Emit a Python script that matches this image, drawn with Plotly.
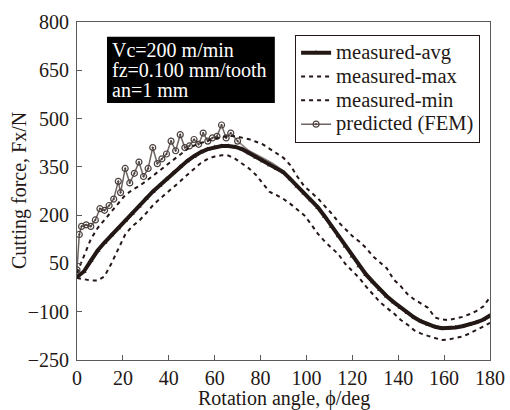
import plotly.graph_objects as go

# ---------------- data ----------------
angle_meas = list(range(0, 181, 3))

measured_avg = [8, 25, 58, 90, 115, 138, 160, 183, 205, 228,
                252, 273, 292, 312, 332, 351, 368, 383, 396, 405,
                411, 415, 415, 412, 405, 393, 380, 368, 356, 345,
                333, 312, 290, 268, 247, 224, 196, 165, 135, 103,
                72, 42, 15, -8, -32, -52, -70, -87, -103, -118,
                -130, -140, -147, -151, -151, -149, -145, -140, -133, -125,
                -112]

measured_max = [20, 75, 125, 160, 185, 210, 238, 262, 278, 290,
                305, 322, 338, 355, 372, 390, 405, 416, 425, 432,
                438, 443, 446, 445, 441, 436, 428, 420, 406, 392,
                378, 355, 320, 290, 270, 252, 228, 205, 178, 155,
                135, 118, 98, 72, 52, 35, 0, -20, -45, -62,
                -75, -88, -118, -124, -126, -122, -116, -108, -98, -84,
                -55]

measured_min = [5, 0, -3, -3, 10, 50, 95, 140, 165, 182,
                205, 230, 250, 268, 285, 305, 325, 345, 362, 375,
                382, 386, 385, 375, 360, 345, 325, 300, 272, 262,
                250, 235, 218, 200, 172, 142, 118, 97, 78, 48,
                28, 5, -22, -45, -70, -88, -105, -125, -140, -158,
                -168, -175, -182, -188, -186, -182, -177, -168, -158, -146,
                -135]

angle_fem = [0, 1, 2, 4, 6, 8, 10, 12, 14, 16, 18, 19, 21, 23, 25, 27, 29,
             31, 33, 35, 37, 39, 41, 43, 45, 47, 49, 51, 53, 55, 57, 59,
             61, 63, 65, 67, 70, 75, 80, 85, 90, 95, 100, 105, 110, 115,
             120, 125, 130, 135, 140, 145, 150, 155, 160, 165, 170, 175, 180]
predicted_fem = [30, 140, 165, 170, 165, 185, 220, 215, 230, 250, 305, 270,
                 345, 300, 330, 365, 320, 345, 410, 360, 375, 390, 430, 400,
                 450, 410, 415, 435, 420, 455, 430, 440, 445, 480, 440, 455,
                 430, 400, 382, 362, 338, 300, 262, 225, 180, 130, 78, 30,
                 -10, -48, -80, -108, -128, -142, -150, -150, -143, -130, -110]

x_ticks = [0, 20, 40, 60, 80, 100, 120, 140, 160, 180]
y_ticks = [-250, -100, 50, 200, 350, 500, 650, 800]
y_ticklabels = ["\u2212250", "\u2212100", "50", "200", "350", "500", "650", "800"]

series_names = ["measured-avg", "measured-max", "measured-min", "predicted (FEM)"]
box_lines = ["Vc=200 m/min", "fz=0.100 mm/tooth", "an=1 mm"]
x_title = "Rotation angle, \u03d5/deg"
y_title = "Cutting force, Fx/N"

# ---------------- style ----------------
INK = "#231815"
AXIS = "#5a5a5a"
FONT = "Liberation Serif, Times New Roman, serif"
MARKED_UNTIL = 70  # FEM markers are visible only on the rising part


def legend_label(name):
    # larger glyphs than the legend's row spacing font -> tight rows like the reference
    return '<span style="font-size:20.5px">' + name + "</span>"


split = sum(1 for a in angle_fem if a <= MARKED_UNTIL)

fig = go.Figure()

# FEM: continuation (line only) drawn below everything
fig.add_trace(go.Scatter(
    x=angle_fem[split - 1:], y=predicted_fem[split - 1:],
    mode="lines", showlegend=False, legendgroup="fem",
    line=dict(color="#8a807e", width=1.5),
    hoverinfo="skip",
))
fig.add_trace(go.Scatter(
    x=angle_fem[:split], y=predicted_fem[:split],
    name=legend_label(series_names[3]),
    mode="lines+markers", legendrank=4, legendgroup="fem",
    line=dict(color="#6e6462", width=1.5),
    marker=dict(symbol="circle-open-dot", size=6, color="#4a403d",
                line=dict(width=1.2)),
))
fig.add_trace(go.Scatter(
    x=angle_meas, y=measured_max, name=legend_label(series_names[1]),
    mode="lines", legendrank=2,
    line=dict(color=INK, width=2, dash="4px,4px"),
))
fig.add_trace(go.Scatter(
    x=angle_meas, y=measured_min, name=legend_label(series_names[2]),
    mode="lines", legendrank=3,
    line=dict(color=INK, width=2, dash="4px,4px"),
))
fig.add_trace(go.Scatter(
    x=angle_meas, y=measured_avg, name=legend_label(series_names[0]),
    mode="lines+markers", legendrank=1,
    line=dict(color=INK, width=4),
    marker=dict(symbol="triangle-up", size=5, color=INK),
))

# black info box
fig.add_shape(type="rect", xref="paper", yref="paper",
              x0=0.0726, x1=0.479, y0=0.760, y1=0.956,
              fillcolor="black", line=dict(width=0), layer="above")
for i, txt in enumerate(box_lines):
    fig.add_annotation(xref="paper", yref="paper", x=0.080,
                       y=0.917 - i * 0.059, xanchor="left", yanchor="middle",
                       text=txt, showarrow=False,
                       font=dict(family=FONT, size=20, color="white"))

# axis titles placed as in the reference
fig.add_annotation(xref="paper", yref="paper", x=0.5, y=0, yshift=-38,
                   xanchor="center", yanchor="middle", text=x_title,
                   showarrow=False, font=dict(family=FONT, size=20, color=INK))
fig.add_annotation(xref="paper", yref="paper", x=0, y=0.5, xshift=-58,
                   xanchor="center", yanchor="middle", text=y_title,
                   textangle=-90, showarrow=False,
                   font=dict(family=FONT, size=20, color=INK))

axis_common = dict(showgrid=False, zeroline=False, showline=True, mirror=True,
                   linecolor=AXIS, linewidth=1, ticks="inside", ticklen=5,
                   tickcolor=AXIS, automargin=False,
                   tickfont=dict(family=FONT, size=20, color=INK))

fig.update_layout(
    width=510, height=410,
    margin=dict(l=77, r=20, t=22, b=50),
    paper_bgcolor="white", plot_bgcolor="white",
    xaxis=dict(range=[0, 180], tickvals=x_ticks, ticklabelstandoff=0,
               **axis_common),
    yaxis=dict(range=[-250, 800], tickvals=y_ticks, ticktext=y_ticklabels,
               ticklabelstandoff=3, **axis_common),
    legend=dict(x=0.976, xanchor="right", y=0.962, yanchor="top",
                bgcolor="white", bordercolor=INK, borderwidth=1,
                font=dict(family=FONT, size=16, color=INK),
                tracegroupgap=0, itemwidth=30),
    showlegend=True,
)

fig.write_html("out.html", config={"displayModeBar": False},
               post_script="document.body.style.margin='0px';")
